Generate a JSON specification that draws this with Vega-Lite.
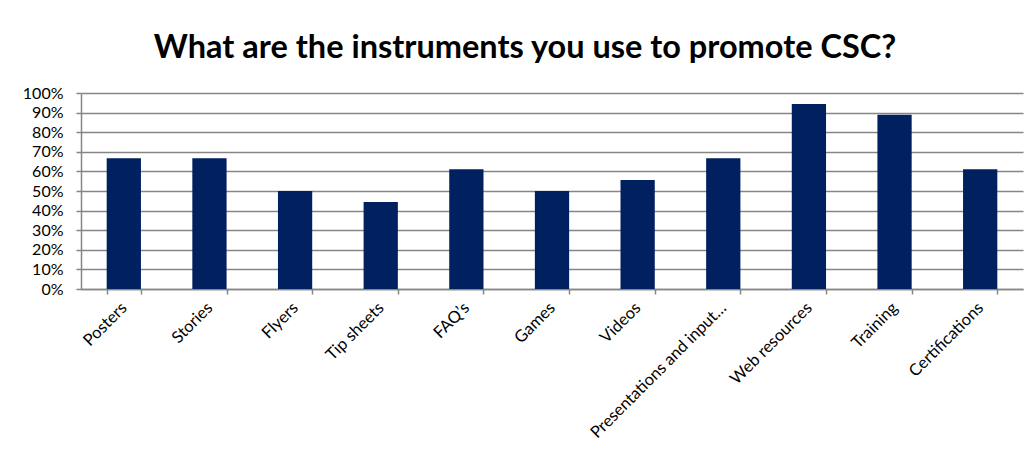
{
  "$schema": "https://vega.github.io/schema/vega-lite/v6.json",
  "autosize": "none",
  "width": 942,
  "height": 196,
  "padding": {"left": 81, "top": 93, "right": 10, "bottom": 165},
  "background": "white",
  "title": {
    "text": "What are the instruments you use to promote CSC?",
    "font": "Lato",
    "fontSize": 32.5,
    "fontWeight": "bold",
    "color": "#000000",
    "anchor": "middle",
    "frame": "group",
    "baseline": "alphabetic",
    "offset": 33,
    "dx": -27,
    "dy": 38
  },
  "data": {
    "values": [
      {"instrument": "Posters", "share": 0.6667},
      {"instrument": "Stories", "share": 0.6667},
      {"instrument": "Flyers", "share": 0.5},
      {"instrument": "Tip sheets", "share": 0.4444},
      {"instrument": "FAQ’s", "share": 0.6111},
      {"instrument": "Games", "share": 0.5},
      {"instrument": "Videos", "share": 0.5556},
      {"instrument": "Presentations and input…", "share": 0.6667},
      {"instrument": "Web resources", "share": 0.9444},
      {"instrument": "Training", "share": 0.8889},
      {"instrument": "Certifications", "share": 0.6111}
    ]
  },
  "mark": {"type": "bar", "color": "#002060"},
  "encoding": {
    "x": {
      "field": "instrument",
      "type": "nominal",
      "sort": null,
      "title": null,
      "scale": {"paddingInner": 0.6, "paddingOuter": 0.3},
      "axis": {
        "labelAngle": -45,
        "labelAlign": "right",
        "labelBaseline": "middle",
        "labelFont": "Lato",
        "labelFontSize": 16.5,
        "labelColor": "#000000",
        "labelPadding": 11,
        "labelLimit": 0,
        "labelOverlap": false,
        "ticks": true,
        "tickBand": "extent",
        "tickSize": 5,
        "tickColor": "#868686",
        "tickWidth": 1.5,
        "domainColor": "#868686",
        "domainWidth": 1.5
      }
    },
    "y": {
      "field": "share",
      "type": "quantitative",
      "title": null,
      "scale": {"domain": [0, 1], "nice": false},
      "axis": {
        "format": ".0%",
        "values": [0, 0.1, 0.2, 0.3, 0.4, 0.5, 0.6, 0.7, 0.8, 0.9, 1],
        "labelFont": "Lato",
        "labelFontSize": 16,
        "labelColor": "#000000",
        "labelPadding": 13,
        "tickColor": "#868686",
        "tickSize": 5,
        "tickWidth": 1.5,
        "domainColor": "#868686",
        "domainWidth": 1.5,
        "gridColor": "#868686",
        "gridWidth": 1.5,
        "gridOpacity": 1
      }
    }
  },
  "config": {
    "view": {"stroke": null}
  }
}
